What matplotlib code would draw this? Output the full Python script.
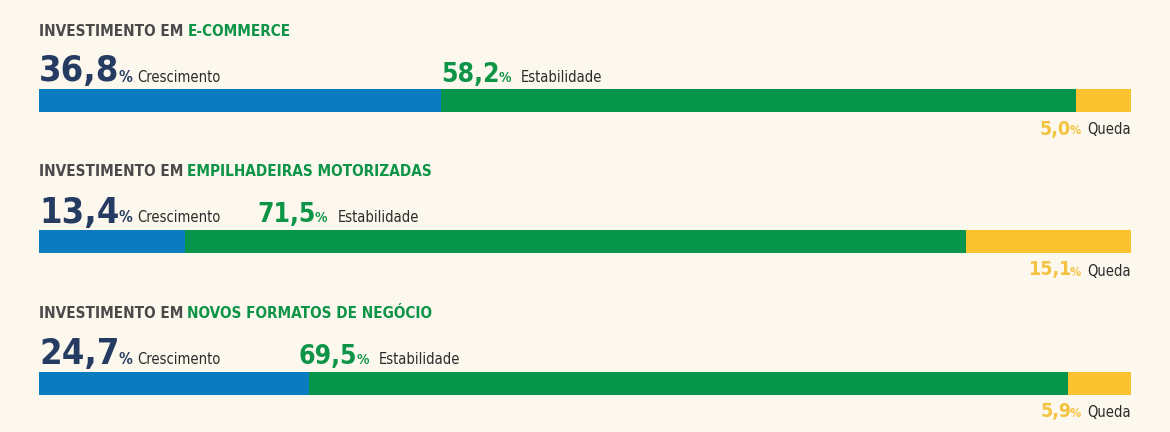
import matplotlib
matplotlib.use("Agg")
import matplotlib.pyplot as plt
import matplotlib.transforms as mtransforms

# data
titles = ["E-COMMERCE", "EMPILHADEIRAS MOTORIZADAS", "NOVOS FORMATOS DE NEGÓCIO"]
crescimento = [36.8, 13.4, 24.7]
estabilidade = [58.2, 71.5, 69.5]
queda = [5.0, 15.1, 5.9]
labels = ["Crescimento", "Estabilidade", "Queda"]

bg = "#FCF8EE"
c_blue, c_green, c_yellow = "#0A7BBE", "#06954A", "#FBC230"
c_navy, c_gnum, c_ynum = "#253B61", "#0E9447", "#F5C342"
c_gray, c_txt = "#4A4A4A", "#2B2B2B"
FONT = "DejaVu Sans"

fig = plt.figure(figsize=(11.7, 4.32), dpi=100, facecolor=bg)
ax = fig.add_axes([39 / 1170, 0, 1092 / 1170, 1])
ax.set_facecolor(bg)
ax.set_xlim(0, 100)
ax.set_ylim(432, 0)
ax.axis("off")
renderer = fig.canvas.get_renderer()


def chain(x, y, parts, right=False):
    # parts: (text, size, color, weight, gap in px before the part)
    off = 0
    seq = parts[::-1] if right else parts
    for txt, size, color, weight, gap in seq:
        if not right:
            off += gap
        tr = mtransforms.offset_copy(ax.transData, fig, x=off, y=0, units="dots")
        t = ax.text(x, y, txt, transform=tr, fontsize=size, color=color,
                    fontweight=weight, family=FONT, fontstretch="condensed",
                    ha="right" if right else "left", va="baseline")
        w = t.get_window_extent(renderer).width
        if right:
            off -= w + gap
        else:
            off += w


def fmt(v):
    return f"{v:.1f}".replace(".", ",")


rows_y = [100.5, 241.5, 383]
title_dy = -65
num_dy = -19
queda_dy = 34
est_x = [36.8, 20.0, 23.8]

for i in range(3):
    y = rows_y[i]
    ax.barh(y, crescimento[i], height=23, left=0, color=c_blue)
    ax.barh(y, estabilidade[i], height=23, left=crescimento[i], color=c_green)
    ax.barh(y, queda[i], height=23, left=crescimento[i] + estabilidade[i],
            color=c_yellow)

    chain(0, y + title_dy, [("INVESTIMENTO EM", 11, c_gray, "bold", 0),
                            (titles[i], 11, c_gnum, "bold", 4)])

    chain(0, y + num_dy, [(fmt(crescimento[i]), 26, c_navy, "bold", 0),
                          ("%", 11, c_navy, "bold", -1),
                          (labels[0], 10.5, c_txt, "normal", 5)])
    chain(est_x[i], y + num_dy, [(fmt(estabilidade[i]), 19, c_gnum, "bold", 0),
                                 ("%", 10, c_gnum, "bold", -1),
                                 (labels[1], 10.5, c_txt, "normal", 10)])
    chain(100, y + queda_dy, [(fmt(queda[i]), 14, c_ynum, "bold", 0),
                              ("%", 9, c_ynum, "bold", -1),
                              (labels[2], 10.5, c_txt, "normal", 6)], right=True)

fig.savefig("out.png", dpi=100, facecolor=bg)
